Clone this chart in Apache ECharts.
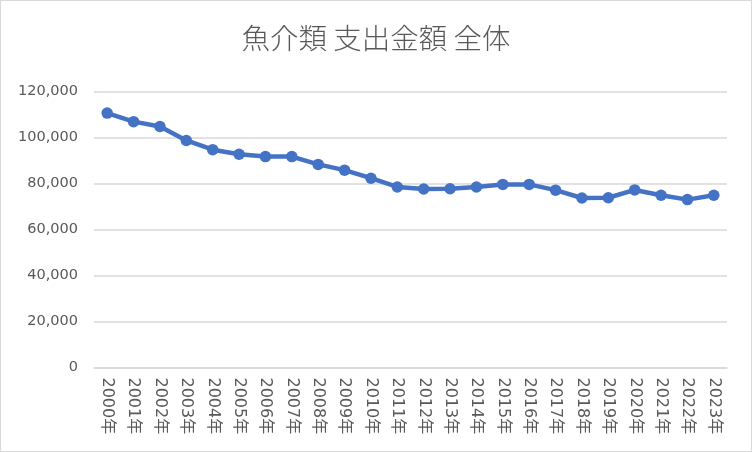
<!DOCTYPE html>
<html><head><meta charset="utf-8">
<script src="https://cdn.jsdelivr.net/npm/echarts@6/dist/echarts.min.js"></script>
<style>
html,body{margin:0;padding:0;background:#fff;}
#c{width:752px;height:452px;box-sizing:border-box;border:1px solid #d9d9d9;}
</style></head><body>
<div id="c"></div>
<script>
const title = '魚介類 支出金額 全体';
const years = ['2000年','2001年','2002年','2003年','2004年','2005年','2006年','2007年','2008年','2009年','2010年','2011年','2012年','2013年','2014年','2015年','2016年','2017年','2018年','2019年','2020年','2021年','2022年','2023年'];
const values = [110600,106900,104800,98700,94700,92700,91700,91700,88300,85800,82300,78500,77600,77700,78500,79600,79600,77100,73700,73800,77200,74900,73000,74900];

const chart = echarts.init(document.getElementById('c'), null, {renderer:'canvas'});
chart.setOption({
  animation:false,
  backgroundColor:'#fff',
  title:{text:title,left:'center',top:18,textStyle:{fontFamily:'Noto Sans CJK JP',fontWeight:300,fontSize:28.5,color:'#595959'}},
  grid:{left:93,right:24,top:90.5,bottom:83.5,containLabel:false},
  xAxis:{type:'category',data:years,boundaryGap:true,
    axisLine:{lineStyle:{color:'#d9d9d9',width:1.5}},axisTick:{show:false},
    axisLabel:{rotate:-90,interval:0,margin:10,color:'#595959',fontSize:16,fontFamily:"'DejaVu Sans','Noto Sans CJK JP'"}},
  yAxis:{type:'value',min:0,max:120000,interval:20000,
    axisLine:{show:false},axisTick:{show:false},
    splitLine:{lineStyle:{color:'#d9d9d9',width:1.5}},
    axisLabel:{margin:16,color:'#595959',fontSize:14.5,fontFamily:'DejaVu Sans',
      formatter:v=>v.toLocaleString('en-US')}},
  series:[{type:'line',data:values,symbol:'circle',symbolSize:11.5,
    lineStyle:{color:'#4472C4',width:4.5},itemStyle:{color:'#4472C4'}}]
});
</script></body></html>
